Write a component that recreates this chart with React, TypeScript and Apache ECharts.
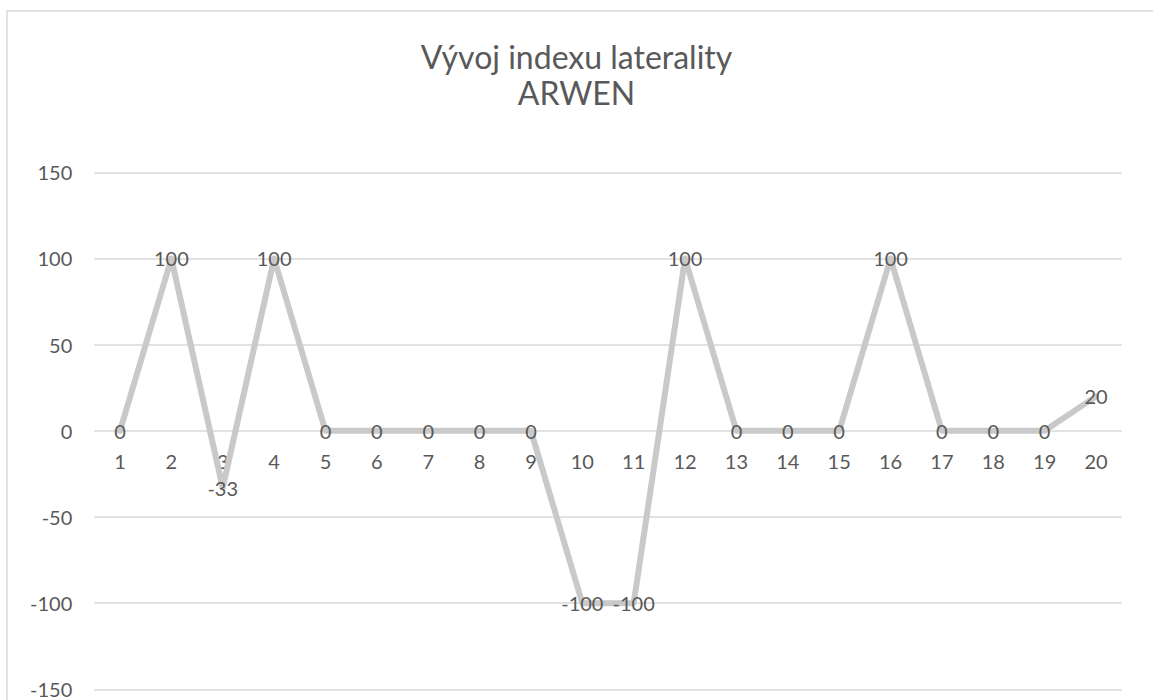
import React, { useEffect, useRef } from "react";
import * as echarts from "echarts";

const titleLines = ["Vývoj indexu laterality", "ARWEN"];
const categories = ["1","2","3","4","5","6","7","8","9","10","11","12","13","14","15","16","17","18","19","20"];
const values = [0, 100, -33, 100, 0, 0, 0, 0, 0, -100, -100, 100, 0, 0, 0, 100, 0, 0, 0, 20];
const yMin = -150;
const yMax = 150;
const yStep = 50;

const FONT = "Lato, 'Open Sans', sans-serif";
const TEXT = "#595959";
const GRID = "#d9d9d9";

export default function App() {
  const ref = useRef<HTMLDivElement>(null);
  useEffect(() => {
    if (!ref.current) return;
    const chart = echarts.init(ref.current, undefined, { renderer: "svg" });
    const gridTop = 172.3;
    const gridBottom = 10.6;
    const plotH = 700 - gridTop - gridBottom;
    const zeroOffset = -plotH * (0 - yMin) / (yMax - yMin);
    chart.setOption({
      animation: false,
      backgroundColor: "#ffffff",
      textStyle: { fontFamily: FONT },
      title: {
        text: titleLines.join("\n"),
        left: "center",
        top: 33,
        textStyle: { fontFamily: FONT, fontSize: 32, fontWeight: "normal", color: TEXT, lineHeight: 36 },
      },
      graphic: [
        {
          type: "rect",
          shape: { x: 7, y: 11, width: 1160, height: 700 },
          style: { fill: "none", stroke: GRID, lineWidth: 1.5 },
          silent: true,
        },
      ],
      grid: { left: 94.3, right: 31.3, top: gridTop, bottom: gridBottom, containLabel: false },
      xAxis: {
        type: "category",
        data: categories,
        boundaryGap: true,
        position: "bottom",
        offset: zeroOffset,
        axisLine: { show: false, onZero: false },
        axisTick: { show: false },
        axisLabel: { color: TEXT, fontSize: 20, fontFamily: FONT, margin: 20 },
        splitLine: { show: false },
      },
      yAxis: {
        type: "value",
        min: yMin,
        max: yMax,
        interval: yStep,
        axisLine: { show: false },
        axisTick: { show: false },
        axisLabel: { color: TEXT, fontSize: 20, lineHeight: 17, fontFamily: FONT, margin: 22 },
        splitLine: { show: true, lineStyle: { color: GRID, width: 1.5 } },
      },
      series: [
        {
          type: "line",
          data: values,
          symbol: "circle",
          symbolSize: 1,
          showSymbol: true,
          itemStyle: { color: "rgba(0,0,0,0)" },
          lineStyle: { color: "#c9c9c9", width: 6, cap: "round", join: "round" },
          label: {
            show: true,
            position: "inside",
            color: TEXT,
            fontSize: 20,
            fontFamily: FONT,
          },
          labelLayout: { hideOverlap: false },
        },
      ],
    });
    return () => chart.dispose();
  }, []);
  return (
    <div
      ref={ref}
      style={{ position: "absolute", left: 0, top: 0, width: 1153, height: 700 }}
    />
  );
}
